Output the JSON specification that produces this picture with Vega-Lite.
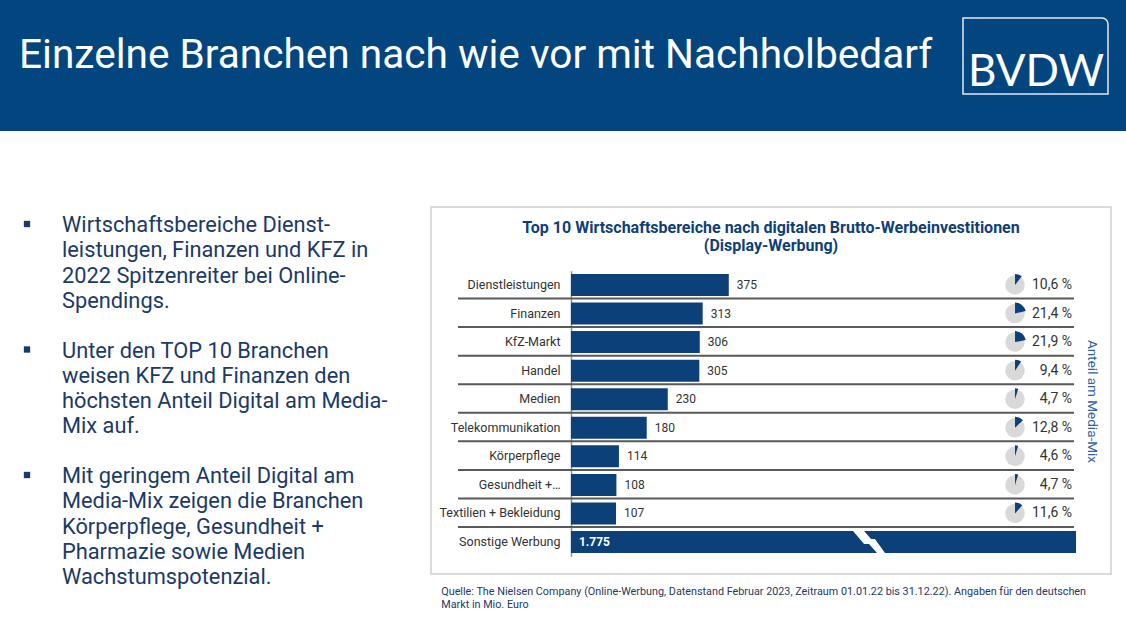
{
  "$schema": "https://vega.github.io/schema/vega-lite/v6.json",
  "padding": 0,
  "background": "white",
  "spacing": 0,
  "config": {
    "view": {"stroke": null},
    "font": "Roboto",
    "axis": {"labelFont": "Roboto", "titleFont": "Roboto"},
    "title": {"font": "Roboto"}
  },
  "vconcat": [
    {
      "width": 1126,
      "height": 131,
      "view": {"fill": "#03457e", "stroke": null},
      "layer": [
        {
          "data": {"values": [{"t": "Einzelne Branchen nach wie vor mit Nachholbedarf"}]},
          "mark": {"type": "text", "align": "left", "baseline": "alphabetic", "fontSize": 40.6, "font": "Roboto", "color": "#ffffff"},
          "encoding": {"text": {"field": "t"}, "x": {"value": 19}, "y": {"value": 68}}
        },
        {
          "data": {"values": [{"t": "BVDW"}]},
          "mark": {"type": "rect", "fillOpacity": 0, "stroke": "#e3e9f1", "strokeWidth": 1.5, "cornerRadiusTopRight": 6},
          "encoding": {"x": {"value": 963}, "x2": {"value": 1108}, "y": {"value": 18}, "y2": {"value": 94}}
        },
        {
          "data": {"values": [{"t": "BVDW"}]},
          "mark": {"type": "text", "align": "center", "baseline": "alphabetic", "fontSize": 44, "font": "Lato", "fontWeight": "normal", "color": "#ffffff"},
          "encoding": {"text": {"field": "t"}, "x": {"value": 1036}, "y": {"value": 86}}
        }
      ]
    },
    {
      "spacing": 0,
      "hconcat": [
        {
          "width": 430,
          "height": 502,
          "data": {"values": [
            {"n": 1, "t": "Wirtschaftsbereiche Dienst-\nleistungen, Finanzen und KFZ in\n2022 Spitzenreiter bei Online-\nSpendings."},
            {"n": 2, "t": "Unter den TOP 10 Branchen\nweisen KFZ und Finanzen den\nhöchsten Anteil Digital am Media-\nMix auf."},
            {"n": 3, "t": "Mit geringem Anteil Digital am\nMedia-Mix zeigen die Branchen\nKörperpflege, Gesundheit +\nPharmazie sowie Medien\nWachstumspotenzial."}
          ]},
          "layer": [
            {
              "mark": {"type": "text", "align": "left", "baseline": "alphabetic", "fontSize": 21.8, "lineHeight": 25.3, "lineBreak": "\n", "color": "#1a3a68", "font": "Roboto"},
              "encoding": {
                "text": {"field": "t"},
                "x": {"value": 62},
                "y": {"field": "n", "type": "ordinal", "axis": null, "scale": {"type": "point", "range": [101, 352], "padding": 0}}
              }
            },
            {
              "mark": {"type": "point", "shape": "square", "filled": true, "size": 40, "color": "#1a3a68", "opacity": 1, "yOffset": -8},
              "encoding": {
                "x": {"value": 27},
                "y": {"field": "n", "type": "ordinal", "axis": null, "scale": {"type": "point", "range": [101, 352], "padding": 0}}
              }
            }
          ]
        },
        {
          "spacing": 0,
          "title": {
            "text": ["Quelle: The Nielsen Company (Online-Werbung, Datenstand Februar 2023, Zeitraum 01.01.22 bis 31.12.22). Angaben für den deutschen", "Markt in Mio. Euro"],
            "orient": "bottom",
            "anchor": "start",
            "frame": "bounds",
            "dx": 11,
            "offset": 11,
            "fontSize": 10.8,
            "fontWeight": "normal",
            "color": "#1f3864",
            "font": "Roboto",
            "lineHeight": 13.5
          },
          "vconcat": [
            {
              "width": 680,
              "height": 75,
              "data": {"values": []},
              "mark": "point",
              "encoding": {}
            },
            {
              "width": 680,
              "height": 367,
              "view": {"stroke": "#cfcfcf", "strokeWidth": 1.5, "fill": "#ffffff"},
              "data": {"values": [
                {"cat": "Dienstleistungen", "value": 375, "share": 10.6},
                {"cat": "Finanzen", "value": 313, "share": 21.4},
                {"cat": "KfZ-Markt", "value": 306, "share": 21.9},
                {"cat": "Handel", "value": 305, "share": 9.4},
                {"cat": "Medien", "value": 230, "share": 4.7},
                {"cat": "Telekommunikation", "value": 180, "share": 12.8},
                {"cat": "Körperpflege", "value": 114, "share": 4.6},
                {"cat": "Gesundheit +…", "value": 108, "share": 4.7},
                {"cat": "Textilien + Bekleidung", "value": 107, "share": 11.6},
                {"cat": "Sonstige Werbung", "value": 1775, "share": null}
              ]},
              "layer": [
                {
                  "transform": [{"filter": "datum.cat !== 'Dienstleistungen'"}],
                  "mark": {"type": "rule", "color": "#595959", "strokeWidth": 2, "yOffset": -4},
                  "encoding": {
                    "x": {"datum": -268.4, "type": "quantitative", "axis": null, "scale": {"domain": [-268.4, 1200], "range": [27, 645], "clamp": true, "nice": false, "zero": false}},
                    "x2": {"datum": 1195.3},
                    "y": {
                      "field": "cat", "type": "nominal", "sort": null, "bandPosition": 0,
                      "scale": {"domain": ["Dienstleistungen", "Finanzen", "KfZ-Markt", "Handel", "Medien", "Telekommunikation", "Körperpflege", "Gesundheit +…", "Textilien + Bekleidung", "Sonstige Werbung"], "range": [63.7, 349.3], "paddingInner": 0.23, "paddingOuter": 0.115},
                      "axis": {
                        "orient": "left", "offset": -140, "domainColor": "#8796ab", "domainWidth": 1.5, "ticks": false,
                        "labelPadding": 11, "labelFontSize": 12.5, "labelColor": "#333333", "labelFont": "Roboto", "labelLimit": 200, "grid": false,
                        "title": "Anteil am Media-Mix", "titleX": 520, "titleY": 194, "titleAngle": 90, "titleAlign": "center", "titleBaseline": "middle",
                        "titleFontSize": 13.5, "titleFontWeight": "normal", "titleColor": "#2f62a3", "titleFont": "Roboto"
                      }
                    }
                  }
                },
                {
                  "data": {"values": [{"t": "Top 10 Wirtschaftsbereiche nach digitalen Brutto-Werbeinvestitionen\n(Display-Werbung)"}]},
                  "mark": {"type": "text", "align": "center", "baseline": "alphabetic", "lineBreak": "\n", "lineHeight": 18.5, "fontSize": 16, "fontWeight": "bold", "color": "#0f3f77", "font": "Roboto"},
                  "encoding": {"text": {"field": "t"}, "y": {"value": 25.7}}
                },
                {
                  "mark": {"type": "bar", "color": "#0c4078"},
                  "encoding": {
                    "x": {"field": "value", "type": "quantitative", "axis": null, "scale": {"domain": [-268.4, 1200], "range": [27, 645], "clamp": true, "nice": false, "zero": false}},
                    "y": {"field": "cat", "type": "nominal", "sort": null}
                  }
                },
                {
                  "transform": [{"filter": "datum.cat !== 'Sonstige Werbung'"}],
                  "mark": {"type": "text", "align": "left", "baseline": "middle", "dx": 8, "fontSize": 12, "color": "#333333", "font": "Roboto"},
                  "encoding": {
                    "text": {"field": "value", "type": "quantitative"},
                    "x": {"field": "value", "type": "quantitative", "scale": {"domain": [-268.4, 1200], "range": [27, 645], "clamp": true, "nice": false, "zero": false}},
                    "y": {"field": "cat", "type": "nominal", "sort": null}
                  }
                },
                {
                  "transform": [
                    {"filter": "datum.cat === 'Sonstige Werbung'"},
                    {"calculate": "replace(format(datum.value, ','), ',', '.')", "as": "lbl"}
                  ],
                  "mark": {"type": "text", "align": "left", "baseline": "middle", "dx": 8, "fontSize": 12, "fontWeight": "bold", "color": "#ffffff", "font": "Roboto"},
                  "encoding": {
                    "text": {"field": "lbl"},
                    "x": {"datum": 0, "type": "quantitative", "scale": {"domain": [-268.4, 1200], "range": [27, 645], "clamp": true, "nice": false, "zero": false}},
                    "y": {"field": "cat", "type": "nominal", "sort": null}
                  }
                },
                {
                  "transform": [{"filter": "datum.cat === 'Sonstige Werbung'"}],
                  "mark": {"type": "point", "shape": "M-0.94,-0.65L-0.29,-0.65L0.12,-0.18L0.35,-0.18L0.94,0.65L0.47,0.65L0,0.12L-0.29,0.12Z", "filled": true, "fill": "#ffffff", "opacity": 1, "strokeWidth": 0, "size": 1156},
                  "encoding": {
                    "x": {"datum": 708.2, "type": "quantitative", "scale": {"domain": [-268.4, 1200], "range": [27, 645], "clamp": true, "nice": false, "zero": false}},
                    "y": {"field": "cat", "type": "nominal", "sort": null}
                  }
                },
                {
                  "transform": [{"filter": "datum.share != null"}],
                  "mark": {"type": "point", "shape": "circle", "filled": true, "color": "#d9d9d9", "opacity": 1, "size": 380},
                  "encoding": {
                    "x": {"datum": 1055.1, "type": "quantitative", "scale": {"domain": [-268.4, 1200], "range": [27, 645], "clamp": true, "nice": false, "zero": false}},
                    "y": {"field": "cat", "type": "nominal", "sort": null}
                  }
                },
                {
                  "transform": [{"filter": "datum.share != null"}],
                  "mark": {"type": "arc", "outerRadius": 11, "innerRadius": 0, "color": "#0c4078"},
                  "encoding": {
                    "theta": {"field": "share", "type": "quantitative", "scale": {"domain": [0, 100], "range": [0, 6.283185]}},
                    "theta2": {"datum": 0},
                    "x": {"datum": 1055.1, "type": "quantitative", "scale": {"domain": [-268.4, 1200], "range": [27, 645], "clamp": true, "nice": false, "zero": false}},
                    "y": {"field": "cat", "type": "nominal", "sort": null}
                  }
                },
                {
                  "transform": [
                    {"filter": "datum.share != null"},
                    {"calculate": "replace(format(datum.share, '.1f'), '.', ',') + ' %'", "as": "lbl"}
                  ],
                  "mark": {"type": "text", "align": "right", "baseline": "middle", "fontSize": 14, "color": "#333333", "font": "Roboto"},
                  "encoding": {
                    "text": {"field": "lbl"},
                    "x": {"datum": 1190.5, "type": "quantitative", "scale": {"domain": [-268.4, 1200], "range": [27, 645], "clamp": true, "nice": false, "zero": false}},
                    "y": {"field": "cat", "type": "nominal", "sort": null}
                  }
                }
              ]
            }
          ]
        }
      ]
    }
  ]
}
